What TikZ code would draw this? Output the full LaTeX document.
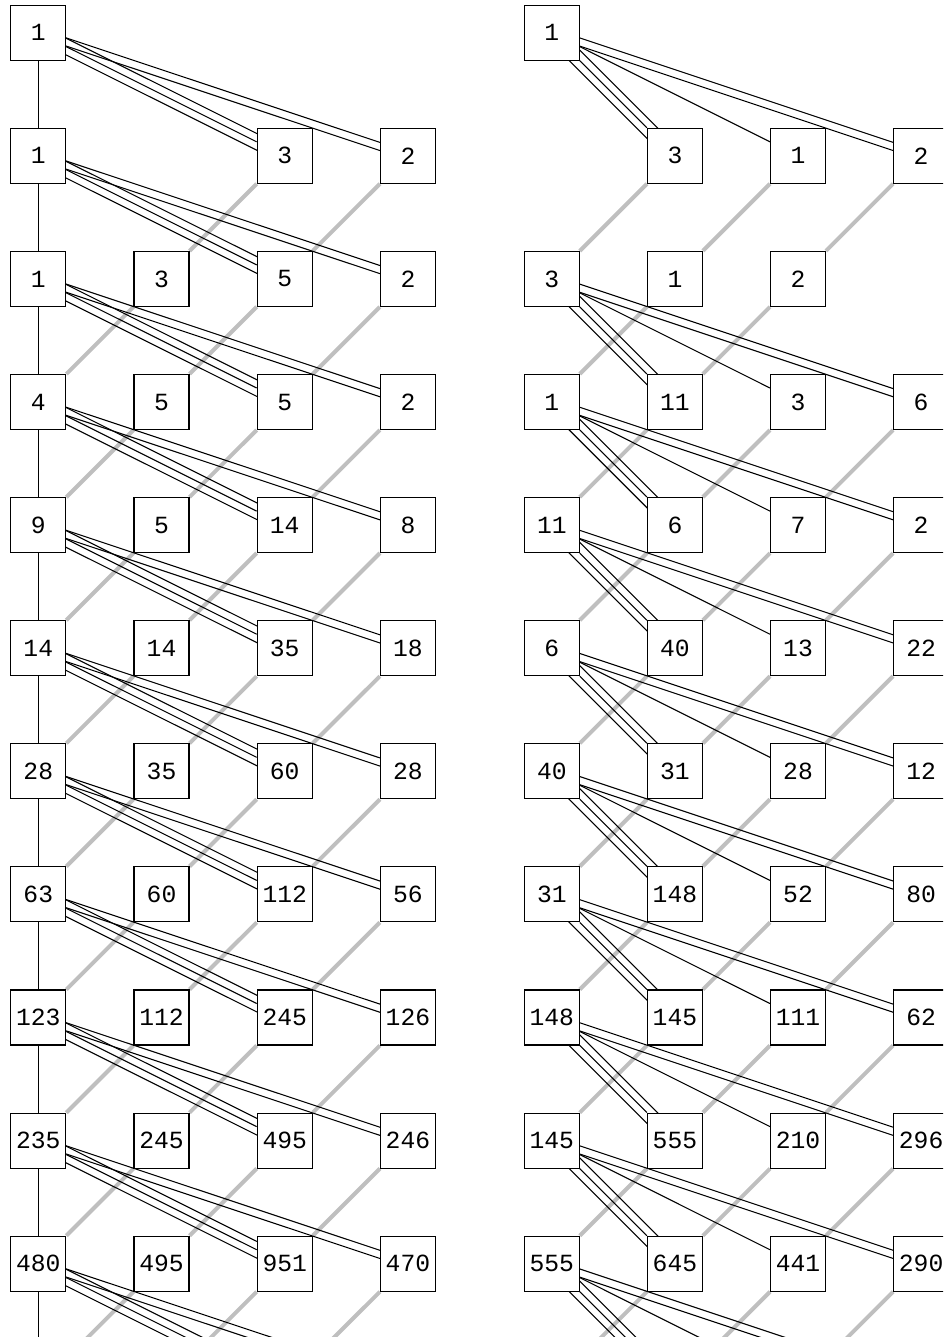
\documentclass[tikz,border=0pt]{standalone}
\usepackage{fontspec}
\newfontfamily\cellfont{Liberation Mono}
\usetikzlibrary{calc,backgrounds}

\tikzset{
  cell/.style={draw, line width=0.8pt, fill=white, minimum size=41.25pt, inner sep=0pt,
    font=\cellfont\fontsize{18.5}{20}\selectfont},
  link/.style={line width=0.8pt},
  ghost/.style={draw=gray!50, line width=3pt},
}
% two parallel strokes between two nodes
\newcommand{\twinlink}[2]{%
  \draw[link] ($(#1.center)!2.9pt!90:(#2.center)$) -- ($(#2.center)!2.9pt!-90:(#1.center)$);
  \draw[link] ($(#1.center)!2.9pt!-90:(#2.center)$) -- ($(#2.center)!2.9pt!90:(#1.center)$);}
% three parallel strokes between two nodes
\newcommand{\triolink}[2]{%
  \draw[link] (#1) -- (#2);
  \draw[link] ($(#1.center)!5.6pt!90:(#2.center)$) -- ($(#2.center)!5.6pt!-90:(#1.center)$);
  \draw[link] ($(#1.center)!5.6pt!-90:(#2.center)$) -- ($(#2.center)!5.6pt!90:(#1.center)$);}

\begin{document}
\begin{tikzpicture}[x=0.75pt, y=-0.75pt]
\useasboundingbox (0,0) rectangle (943,1337);
\clip (0,0) rectangle (943,1337);

% left grid
\node[cell] (L-0-0) at (38.3,32.7) {1};
\node[cell] (L-1-0) at (38.3,155.8) {1};
\node[cell] (L-1-2) at (284.7,155.8) {3};
\node[cell] (L-1-3) at (407.9,155.8) {2};
\foreach \row/\vals in {2/{1,3,5,2}, 3/{4,5,5,2}, 4/{9,5,14,8}, 5/{14,14,35,18},
    6/{28,35,60,28}, 7/{63,60,112,56}, 8/{123,112,245,126}, 9/{235,245,495,246},
    10/{480,495,951,470}}
  \foreach \v [count=\c from 0] in \vals
    \node[cell] (L-\row-\c) at ({38.3+123.2*\c},{32.7+123.1*\row}) {\v};
\foreach \c in {0,...,3}
  \coordinate (L-11-\c) at ({38.3+123.2*\c},{32.7+123.1*11});

% right grid
\node[cell] (R-0-0) at (551.8,32.7) {1};
\node[cell] (R-1-1) at (674.9,155.8) {3};
\node[cell] (R-1-2) at (798.0,155.8) {1};
\node[cell] (R-1-3) at (921.1,155.8) {2};
\node[cell] (R-2-0) at (551.8,278.9) {3};
\node[cell] (R-2-1) at (674.9,278.9) {1};
\node[cell] (R-2-2) at (798.0,278.9) {2};
\foreach \row/\vals in {3/{1,11,3,6}, 4/{11,6,7,2}, 5/{6,40,13,22}, 6/{40,31,28,12},
    7/{31,148,52,80}, 8/{148,145,111,62}, 9/{145,555,210,296}, 10/{555,645,441,290}}
  \foreach \v [count=\c from 0] in \vals
    \node[cell] (R-\row-\c) at ({551.8+123.1*\c},{32.7+123.1*\row}) {\v};
\foreach \c in {0,...,3}
  \coordinate (R-11-\c) at ({551.8+123.1*\c},{32.7+123.1*11});

\begin{scope}[on background layer]
  % grey diagonals
  \draw[ghost] (L-1-2) -- (L-2-1);
  \draw[ghost] (L-1-3) -- (L-2-2);
  \foreach \row in {2,...,10}
    \foreach \c in {1,2,3} {
      \pgfmathtruncatemacro\nxt{\row+1}
      \pgfmathtruncatemacro\lft{\c-1}
      \draw[ghost] (L-\row-\c) -- (L-\nxt-\lft);
    }
  \draw[ghost] (R-1-1) -- (R-2-0);
  \draw[ghost] (R-1-2) -- (R-2-1);
  \draw[ghost] (R-1-3) -- (R-2-2);
  \draw[ghost] (R-2-1) -- (R-3-0);
  \draw[ghost] (R-2-2) -- (R-3-1);
  \foreach \row in {3,...,10}
    \foreach \c in {1,2,3} {
      \pgfmathtruncatemacro\nxt{\row+1}
      \pgfmathtruncatemacro\lft{\c-1}
      \draw[ghost] (R-\row-\c) -- (R-\nxt-\lft);
    }
  % black links
  \foreach \row [evaluate=\row as \nxt using int(\row+1)] in {0,...,10} {
    \draw[link] (L-\row-0) -- (L-\nxt-0);
    \triolink{L-\row-0}{L-\nxt-2}
    \twinlink{L-\row-0}{L-\nxt-3}
  }
  \foreach \row [evaluate=\row as \nxt using int(\row+1)] in {0,2,3,4,5,6,7,8,9,10} {
    \triolink{R-\row-0}{R-\nxt-1}
    \draw[link] (R-\row-0) -- (R-\nxt-2);
    \twinlink{R-\row-0}{R-\nxt-3}
  }
\end{scope}
\end{tikzpicture}
\end{document}
